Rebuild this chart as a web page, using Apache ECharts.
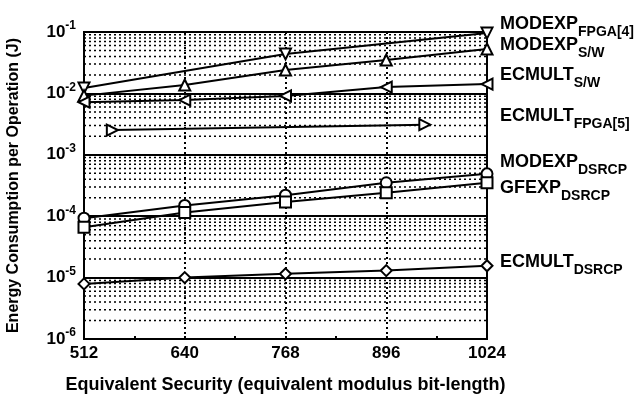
<!DOCTYPE html>
<html><head><meta charset="utf-8">
<script src="https://cdn.jsdelivr.net/npm/echarts@6/dist/echarts.min.js"></script>
<style>html,body{margin:0;padding:0;background:#fff}#c{width:637px;height:394px}</style>
</head><body><div id="c"></div>
<script>
const bitLengths = [512, 640, 768, 896, 1024];
const modexpFpga = [0.0122, null, 0.044, null, 0.096];
const modexpSw = [0.0092, 0.0137, 0.024, 0.035, 0.053];
const ecmultSw = [0.0072, 0.0078, 0.0091, 0.0127, 0.0142];
const ecmultFpgaX = [548, 945];
const ecmultFpga = [0.00253, 0.0031];
const modexpDsrcp = [0.000093, 0.000150, 0.000220, 0.000350, 0.000490];
const gfexpDsrcp = [0.000066, 0.000115, 0.000170, 0.000240, 0.000350];
const ecmultDsrcp = [0.0000079, 0.0000100, 0.0000115, 0.0000130, 0.0000156];
const xTicks = [512, 640, 768, 896, 1024];
const yDecades = [-6, -5, -4, -3, -2, -1];
const minorMultipliers = [2, 3, 4, 5, 6, 7, 8, 9];
const seriesLabels = [
  ['MODEXP', 'FPGA[4]'], ['MODEXP', 'S/W'], ['ECMULT', 'S/W'], ['ECMULT', 'FPGA[5]'],
  ['MODEXP', 'DSRCP'], ['GFEXP', 'DSRCP'], ['ECMULT', 'DSRCP']
];

const FONT = '"Liberation Sans", Arial, sans-serif';
function pairs(xs, ys) { return xs.map((x, i) => [x, ys[i]]); }

// minor grid lines (2..9 x 10^n) drawn as one broken line series through the axes
const minorGrid = [];
yDecades.slice(0, -1).forEach(e => {
  minorMultipliers.forEach(m => {
    const v = m * Math.pow(10, e);
    minorGrid.push([xTicks[0], v], [xTicks[xTicks.length - 1], v], [xTicks[xTicks.length - 1], '-']);
  });
});

function mk(name, data, symbol, rotate, extra) {
  return Object.assign({
    name, type: 'line', data, symbol, symbolSize: 11, symbolRotate: rotate || 0,
    connectNulls: true, showAllSymbol: true,
    lineStyle: { color: '#000', width: 2 },
    itemStyle: { color: '#fff', borderColor: '#000', borderWidth: 2 },
    emphasis: { disabled: true }, animation: false, z: 5
  }, extra || {});
}

const labelY = [30, 51, 81, 122, 168, 194, 268];
const LH = 30;
const graphics = seriesLabels.map((l, i) => ({
  type: 'text', left: 500, top: labelY[i] - LH / 2,
  style: {
    text: '{m|' + l[0] + '}{s|' + l[1] + '}',
    rich: {
      m: { fontFamily: FONT, fontWeight: 'bold', fontSize: 18, lineHeight: LH, verticalAlign: 'middle', fill: '#000' },
      s: { fontFamily: FONT, fontWeight: 'bold', fontSize: 14, lineHeight: 14, verticalAlign: 'bottom', fill: '#000' }
    }
  }
}));

const chart = echarts.init(document.getElementById('c'), null, { renderer: 'canvas' });
chart.setOption({
  animation: false,
  backgroundColor: '#fff',
  grid: { left: 84, right: 150, top: 32, bottom: 55, outerBoundsMode: 'none', containLabel: false,
    show: true, borderColor: '#000', borderWidth: 2, backgroundColor: 'transparent' },
  xAxis: {
    type: 'value', min: 512, max: 1024, interval: 128,
    name: 'Equivalent Security (equivalent modulus bit-length)', nameLocation: 'middle', nameGap: 37,
    nameTextStyle: { fontFamily: FONT, fontWeight: 'bold', fontSize: 18, color: '#000' },
    axisLine: { show: true, lineStyle: { color: '#000', width: 2 } },
    axisTick: { show: true, inside: true, length: 3, lineStyle: { color: '#000', width: 2 } },
    minorTick: { show: true, splitNumber: 2, length: 3, lineStyle: { color: '#000', width: 2 } },
    axisLabel: { fontFamily: FONT, fontWeight: 'bold', fontSize: 17, color: '#000', margin: 6, formatter: v => String(v) },
    splitLine: { show: true, lineStyle: { color: '#000', width: 2, type: [2, 3] } }
  },
  yAxis: {
    type: 'log', logBase: 10, min: 1e-6, max: 1e-1,
    name: 'Energy Consumption per Operation (J)', nameLocation: 'middle', nameGap: 62,
    nameTextStyle: { fontFamily: FONT, fontWeight: 'bold', fontSize: 16, color: '#000' },
    axisLine: { show: true, lineStyle: { color: '#000', width: 2 } },
    axisTick: { show: false },
    axisLabel: {
      margin: 8,
      formatter: v => '{b|10}{s|' + Math.round(Math.log10(v)) + '}',
      rich: {
        b: { fontFamily: FONT, fontWeight: 'bold', fontSize: 17, lineHeight: 24, verticalAlign: 'middle', color: '#000' },
        s: { fontFamily: FONT, fontWeight: 'bold', fontSize: 12, lineHeight: 12, verticalAlign: 'top', color: '#000' }
      }
    },
    splitLine: { show: true, lineStyle: { color: '#000', width: 2 } }
  },
  graphic: graphics,
  series: [
    mk('minor grid', minorGrid, 'none', 0, {
      connectNulls: false, z: 1,
      lineStyle: { color: '#000', width: 1.5, type: [2, 3] }
    }),
    mk('MODEXP FPGA', pairs(bitLengths, modexpFpga), 'triangle', 180),
    mk('MODEXP S/W', pairs(bitLengths, modexpSw), 'triangle', 0),
    mk('ECMULT S/W', pairs(bitLengths, ecmultSw), 'triangle', 90),
    mk('ECMULT FPGA', pairs(ecmultFpgaX, ecmultFpga), 'triangle', -90),
    mk('MODEXP DSRCP', pairs(bitLengths, modexpDsrcp), 'circle', 0),
    mk('GFEXP DSRCP', pairs(bitLengths, gfexpDsrcp), 'rect', 0),
    mk('ECMULT DSRCP', pairs(bitLengths, ecmultDsrcp), 'diamond', 0)
  ]
});
</script></body></html>
